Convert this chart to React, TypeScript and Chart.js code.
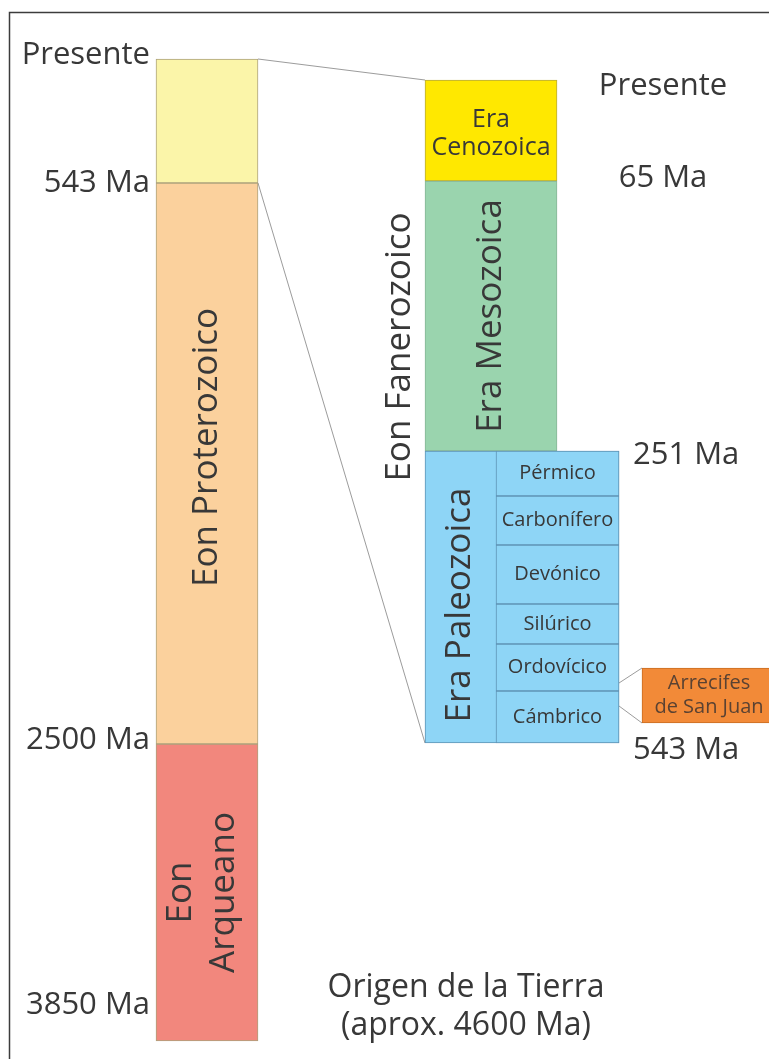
import React, { useEffect, useRef } from "react";
import { Chart, registerables, LinearScale } from "chart.js";

Chart.register(...registerables);

// ---------------- data ----------------
const eonNames = ["Eon Fanerozoico", "Eon Proterozoico", "Eon Arqueano"];
const eonBoundsMa = [0, 543, 2500, 3850];
const eonTickLabels = ["Presente", "543 Ma", "2500 Ma", "3850 Ma"];

const eraNames = ["Era Cenozoica", "Era Mesozoica", "Era Paleozoica"];
const eraBoundsMa = [0, 65, 251, 543];
const eraTickLabels = ["Presente", "65 Ma", "251 Ma", "543 Ma"];

const periodNames = ["Pérmico", "Carbonífero", "Devónico", "Silúrico", "Ordovícico", "Cámbrico"];
const periodBoundsMa = [251, 296, 345, 404, 444, 491, 543];

const reefLabel = ["Arrecifes", "de San Juan"];
const reefRangeMa = [468, 523];
const reefLinkMa = [483, 506];

const originLabel = ["Origen de la Tierra", "(aprox. 4600 Ma)"];

// ---------------- layout / style ----------------
const W = 769;
const H = 1059;
const FONT = '"Open Sans", "DejaVu Sans", sans-serif';
const TEXT = "#383838";

// piecewise (schematic) mapping: [Ma, canvas y]
const Y_BREAKS: Record<string, number[][]> = {
  yL: [[0, 59], [543, 183], [2500, 744], [3850, 1041]],
  yR: [[0, 80], [65, 181], [251, 451], [543, 743]],
};

const COL = {
  eon: { x: 207, w: 102 },
  era: { x: 491, w: 132 },
  paleo: { x: 522, w: 194 },
  period: { x: 557.5, w: 123 },
  reef: { x: 709, w: 134 },
};

const eonColors = ["#fbf5a9", "#fbd19d", "#f2877d"];
const eonBorder = "#aca27c";
const eraColors = ["#ffe800", "#9ad4ae"];
const eraBorders = ["#b9ab3a", "#86b597"];
const paleoColor = "#8ed5f6";
const paleoBorder = "#5e93b5";
const reefColor = "#f28a38";
const reefBorder = "#c96c22";

class PiecewiseScale extends LinearScale {
  static id = "piecewise";
  static defaults = LinearScale.defaults;
  getPixelForValue(value: number) {
    const br = Y_BREAKS[(this as any).id];
    const h = (this as any).bottom - (this as any).top;
    let i = 0;
    while (i < br.length - 2 && value > br[i + 1][0]) i++;
    const [v0, p0] = br[i];
    const [v1, p1] = br[i + 1];
    const p = p0 + ((value - v0) / (v1 - v0)) * (p1 - p0);
    return (this as any).top + (p / H) * h;
  }
  getValueForPixel(pixel: number) {
    const br = Y_BREAKS[(this as any).id];
    const h = (this as any).bottom - (this as any).top;
    const p = ((pixel - (this as any).top) / h) * H;
    let i = 0;
    while (i < br.length - 2 && p > br[i + 1][1]) i++;
    const [v0, p0] = br[i];
    const [v1, p1] = br[i + 1];
    return v0 + ((p - p0) / (p1 - p0)) * (v1 - v0);
  }
}
Chart.register(PiecewiseScale as any);

function pairs(bounds: number[]) {
  const out: number[][] = [];
  for (let i = 0; i < bounds.length - 1; i++) out.push([bounds[i], bounds[i + 1]]);
  return out;
}

function drawLines(
  ctx: CanvasRenderingContext2D,
  lines: string[],
  x: number,
  y: number,
  size: number,
  o: { align?: CanvasTextAlign; rotate?: boolean; color?: string; lh?: number } = {}
) {
  ctx.save();
  ctx.translate(x, y);
  if (o.rotate) ctx.rotate(-Math.PI / 2);
  ctx.font = `${size}px ${FONT}`;
  ctx.fillStyle = o.color || TEXT;
  ctx.textAlign = o.align || "center";
  ctx.textBaseline = "middle";
  const lh = o.lh || size * 1.2;
  lines.forEach((t, i) => ctx.fillText(t, 0, (i - (lines.length - 1) / 2) * lh));
  ctx.restore();
}

function edge(col: { x: number; w: number }, xs: any, side: number) {
  return xs.getPixelForValue(col.x) + (side * col.w) / 2;
}

const decorPlugin = {
  id: "decor",
  beforeDatasetsDraw(chart: any) {
    const ctx: CanvasRenderingContext2D = chart.ctx;
    const xs = chart.scales.x;
    const yL = chart.scales.yL;
    const yR = chart.scales.yR;
    ctx.save();
    ctx.fillStyle = "#ffffff";
    ctx.fillRect(0, 0, W, H);
    ctx.strokeStyle = "#3c3c3c";
    ctx.lineWidth = 1.5;
    ctx.strokeRect(9.5, 12.5, W + 60, H + 60);
    ctx.strokeStyle = "#9c9c9c";
    ctx.lineWidth = 1;
    const seg = (x1: number, y1: number, x2: number, y2: number) => {
      ctx.beginPath();
      ctx.moveTo(x1, y1);
      ctx.lineTo(x2, y2);
      ctx.stroke();
    };
    const eonRight = edge(COL.eon, xs, 1);
    const eraLeft = edge(COL.era, xs, -1);
    [eraBoundsMa[0], eraBoundsMa[eraBoundsMa.length - 1]].forEach((v) =>
      seg(eonRight, yL.getPixelForValue(v), eraLeft, yR.getPixelForValue(v))
    );
    const perRight = edge(COL.period, xs, 1);
    const reefLeft = edge(COL.reef, xs, -1);
    reefLinkMa.forEach((v, i) =>
      seg(perRight, yR.getPixelForValue(v), reefLeft, yR.getPixelForValue(reefRangeMa[i]))
    );
    ctx.restore();
  },
  afterDatasetsDraw(chart: any) {
    const ctx: CanvasRenderingContext2D = chart.ctx;
    const xs = chart.scales.x;
    const yL = chart.scales.yL;
    const yR = chart.scales.yR;
    const eonLeft = edge(COL.eon, xs, -1);
    const eonMid = xs.getPixelForValue(COL.eon.x);
    const eraLeft = edge(COL.era, xs, -1);
    const eraMid = xs.getPixelForValue(COL.era.x);
    const paleoRight = edge(COL.paleo, xs, 1);
    const perLeft = edge(COL.period, xs, -1);
    const perMid = xs.getPixelForValue(COL.period.x);

    // left tick labels
    const leftDy = [-4, 0, -4, -36];
    eonTickLabels.forEach((t, i) =>
      drawLines(ctx, [t], eonLeft - 6, yL.getPixelForValue(eonBoundsMa[i]) + leftDy[i], 31, { align: "right" })
    );
    // right tick labels
    const rightCfg: { align: CanvasTextAlign; dx: number; dy: number }[] = [
      { align: "center", dx: 44, dy: 6 },
      { align: "center", dx: 44, dy: -3 },
      { align: "left", dx: 14, dy: 4 },
      { align: "left", dx: 14, dy: 7 },
    ];
    eraTickLabels.forEach((t, i) =>
      drawLines(ctx, [t], paleoRight + rightCfg[i].dx, yR.getPixelForValue(eraBoundsMa[i]) + rightCfg[i].dy, 31, {
        align: rightCfg[i].align,
      })
    );

    // eon names
    drawLines(ctx, [eonNames[0]], eraLeft - 25, 347, 35, { rotate: true });
    drawLines(ctx, [eonNames[1]], eonMid, (yL.getPixelForValue(eonBoundsMa[1]) + yL.getPixelForValue(eonBoundsMa[2])) / 2 - 16, 35, { rotate: true });
    drawLines(ctx, eonNames[2].split(" "), eonMid - 4, (yL.getPixelForValue(eonBoundsMa[2]) + yL.getPixelForValue(eonBoundsMa[3])) / 2, 35, { rotate: true, lh: 43 });

    // era names
    drawLines(ctx, eraNames[0].split(" "), eraMid, (yR.getPixelForValue(eraBoundsMa[0]) + yR.getPixelForValue(eraBoundsMa[1])) / 2 + 3, 25, { lh: 28 });
    drawLines(ctx, [eraNames[1]], eraMid, (yR.getPixelForValue(eraBoundsMa[1]) + yR.getPixelForValue(eraBoundsMa[2])) / 2, 35, { rotate: true });
    drawLines(ctx, [eraNames[2]], (eraLeft + perLeft) / 2, (yR.getPixelForValue(eraBoundsMa[2]) + yR.getPixelForValue(eraBoundsMa[3])) / 2 + 8, 35, { rotate: true });

    // periods
    periodNames.forEach((t, i) =>
      drawLines(ctx, [t], perMid, (yR.getPixelForValue(periodBoundsMa[i]) + yR.getPixelForValue(periodBoundsMa[i + 1])) / 2, 20)
    );

    // reef
    drawLines(ctx, reefLabel, xs.getPixelForValue(COL.reef.x), (yR.getPixelForValue(reefRangeMa[0]) + yR.getPixelForValue(reefRangeMa[1])) / 2, 20, { color: "#5a4232", lh: 24 });

    // origin
    drawLines(ctx, originLabel, 466, 1007, 32, { lh: 38 });
  },
};

export default function App() {
  const ref = useRef<HTMLCanvasElement | null>(null);
  useEffect(() => {
    if (!ref.current) return;
    const common = { stack: "diagram", borderSkipped: false, borderWidth: 1, grouped: true };
    const chart = new Chart(ref.current, {
      type: "bar",
      data: {
        datasets: [
          {
            ...common,
            label: "Eones",
            order: 5,
            yAxisID: "yL",
            barThickness: COL.eon.w,
            data: pairs(eonBoundsMa).map((r) => ({ x: COL.eon.x, y: r })),
            backgroundColor: eonColors,
            borderColor: eonBorder,
          },
          {
            ...common,
            label: "Eras",
            order: 4,
            yAxisID: "yR",
            barThickness: COL.era.w,
            data: pairs(eraBoundsMa).slice(0, 2).map((r) => ({ x: COL.era.x, y: r })),
            backgroundColor: eraColors,
            borderColor: eraBorders,
          },
          {
            ...common,
            label: eraNames[2],
            order: 3,
            yAxisID: "yR",
            barThickness: COL.paleo.w,
            data: pairs(eraBoundsMa).slice(2).map((r) => ({ x: COL.paleo.x, y: r })),
            backgroundColor: paleoColor,
            borderColor: paleoBorder,
          },
          {
            ...common,
            label: "Periodos",
            order: 2,
            yAxisID: "yR",
            barThickness: COL.period.w,
            data: pairs(periodBoundsMa).map((r) => ({ x: COL.period.x, y: r })),
            backgroundColor: paleoColor,
            borderColor: paleoBorder,
          },
          {
            ...common,
            label: "Arrecifes de San Juan",
            order: 1,
            yAxisID: "yR",
            barThickness: COL.reef.w,
            data: [{ x: COL.reef.x, y: reefRangeMa }],
            backgroundColor: reefColor,
            borderColor: reefBorder,
          },
        ] as any,
      },
      options: {
        responsive: false,
        maintainAspectRatio: false,
        animation: false,
        events: [],
        layout: { padding: 0 },
        plugins: { legend: { display: false }, tooltip: { enabled: false }, title: { display: false } },
        scales: {
          x: { type: "linear", min: 0, max: W, offset: false, display: false, grid: { display: false, offset: false } },
          yL: { type: "piecewise", min: 0, max: 3850, display: false, stacked: false },
          yR: { type: "piecewise", min: 0, max: 543, display: false, stacked: false },
        } as any,
      },
      plugins: [decorPlugin as any],
    });
    return () => chart.destroy();
  }, []);
  return (
    <div style={{ position: "absolute", left: 0, top: 0, width: W, height: H, background: "#fff" }}>
      <canvas ref={ref} width={W} height={H} style={{ display: "block" }} />
    </div>
  );
}
